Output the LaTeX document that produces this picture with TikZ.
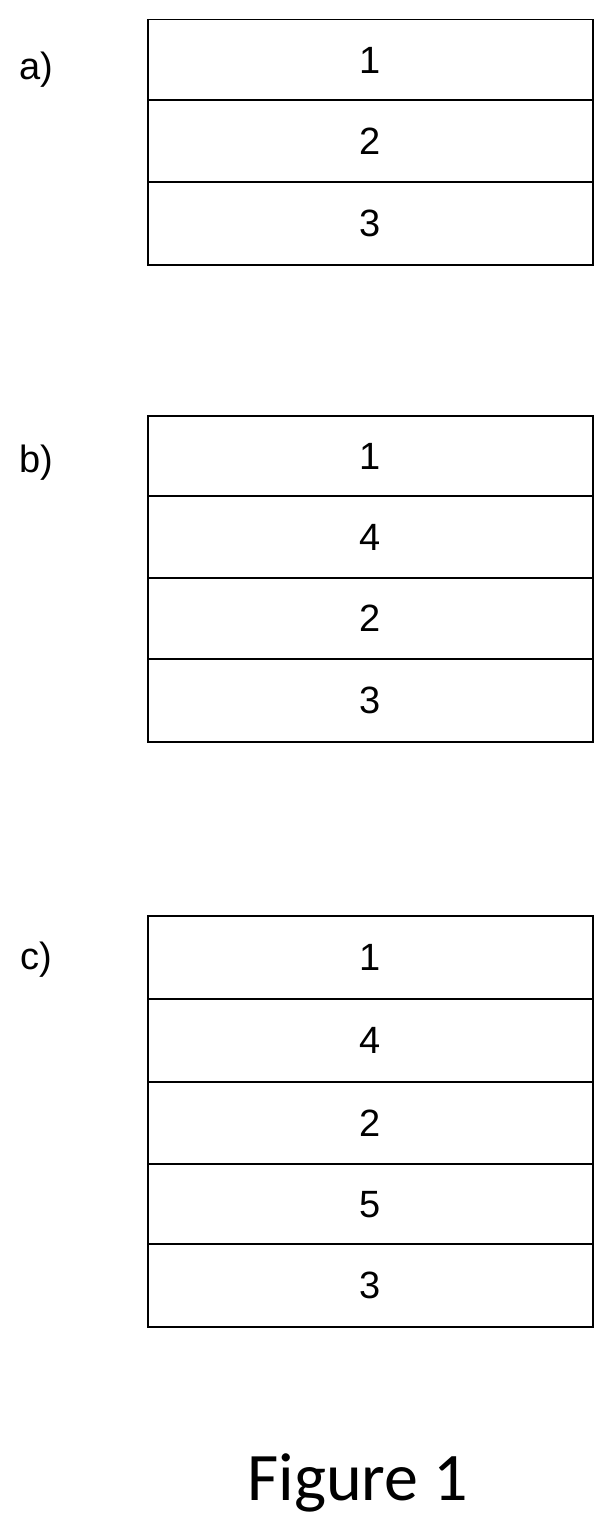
\documentclass[tikz,border=0pt]{standalone}
\usepackage{fontspec}
\setmainfont{Liberation Sans}
\newfontfamily\capfont{Carlito}
\begin{document}
\begin{tikzpicture}[x=1pt,y=-1pt,
  layer/.style={draw,line width=1.5pt,minimum width=445pt,anchor=north west,inner sep=0pt,text height=27pt,text depth=-16pt,font=\fontsize{38}{38}\selectfont},
  lab/.style={font=\fontsize{38}{38}\selectfont}]
\useasboundingbox (0,0) rectangle (615,1528);
% a
\node[layer,minimum height=80pt] (a1) at (147,19) {1};
\node[layer,minimum height=82pt] (a2) at (147,99) {2};
\node[layer,minimum height=83pt] (a3) at (147,181) {3};
\node[lab] (la) at (36,70) {a)};
% b
\node[layer,minimum height=80pt] (b1) at (147,415) {1};
\node[layer,minimum height=82pt] (b2) at (147,495) {4};
\node[layer,minimum height=81pt] (b3) at (147,577) {2};
\node[layer,minimum height=83pt] (b4) at (147,658) {3};
\node[lab] (lb) at (36,463) {b)};
% c
\node[layer,minimum height=83pt] (c1) at (147,915) {1};
\node[layer,minimum height=83pt] (c2) at (147,998) {4};
\node[layer,minimum height=82pt] (c3) at (147,1081) {2};
\node[layer,minimum height=80pt] (c4) at (147,1163) {5};
\node[layer,minimum height=83pt] (c5) at (147,1243) {3};
\node[lab] (lc) at (36,960) {c)};
\node[font=\capfont\fontsize{68}{68}\selectfont] (fig) at (358,1483) {Figure 1};
\end{tikzpicture}
\end{document}
